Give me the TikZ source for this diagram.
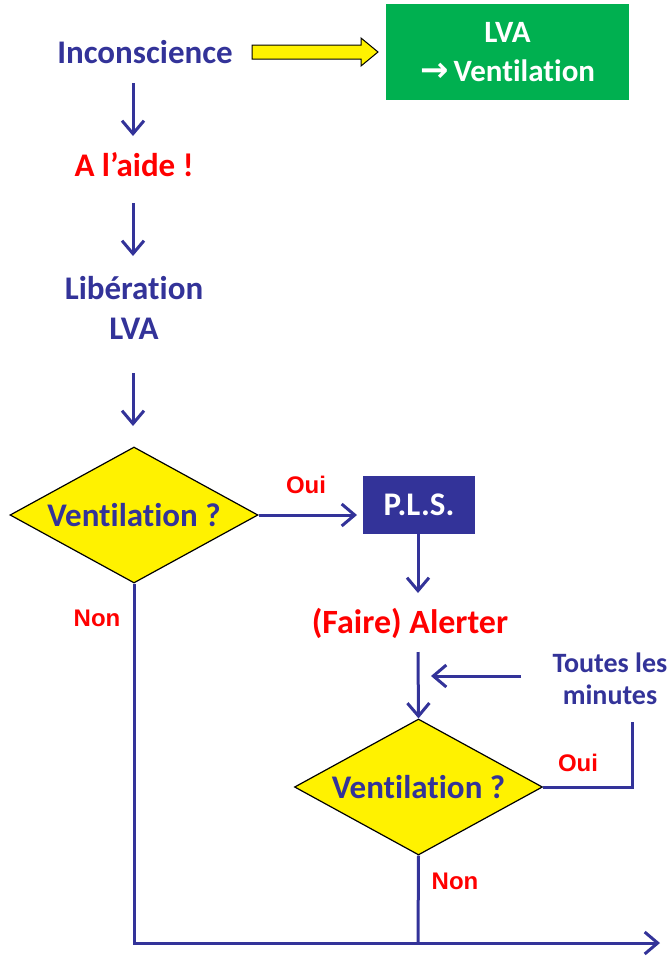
\documentclass[tikz,border=0pt]{standalone}
\usepackage{fontspec}
\setmainfont{Carlito}[Ligatures={NoCommon}]
\newfontfamily\labelfont{Liberation Sans}
\newfontfamily\arrowfont{DejaVu Sans}
\usetikzlibrary{arrows.meta,shapes.geometric}
\definecolor{navy}{HTML}{333399}
\definecolor{lvagreen}{HTML}{00B050}
\definecolor{alertred}{HTML}{FF0000}
\begin{document}
\begin{tikzpicture}[x=1pt,y=-1pt,
  big/.style={font=\fontsize{33}{40}\selectfont\bfseries},
  txt/.style={big, text=navy, inner sep=0pt},
  redtxt/.style={big, text=alertred, inner sep=0pt},
  yesno/.style={font=\labelfont\fontsize{24}{28}\selectfont\bfseries, text=alertred, inner sep=0pt},
  choice/.style={diamond, draw=black, line width=1.2pt, fill=yellow, minimum width=248pt, minimum height=136pt, inner sep=0pt, aspect=1.82, big, text=navy},
  flow/.style={draw=navy, line width=3pt, -{Straight Barb[length=13pt,width=22pt,line width=3pt]}},
  link/.style={draw=navy, line width=3pt}]
\useasboundingbox (0,0) rectangle (672,959);

% entry
\node[txt] (inc) at (145,52) {Inconscience};
\node[fill=lvagreen, minimum width=243pt, minimum height=96pt, inner sep=0pt,
      align=center, font=\fontsize{31}{39}\selectfont\bfseries, text=white] (green) at (507.5,52)
      {LVA\\{\arrowfont\bfseries\fontsize{34}{39}\selectfont →}\,Ventilation};
% yellow block arrow
\draw[black, line width=1pt, fill=yellow, line join=miter]
  (252,45) -- (361,45) -- (361,38) -- (378,52) -- (361,66) -- (361,59) -- (252,59) -- cycle;

\coordinate (a1s) at (133,83);  \coordinate (a1e) at (133,136);
\draw[flow] (a1s) -- (a1e);
\node[redtxt] (aide) at (134,165) {A l’aide !};
\coordinate (a2s) at (133,203); \coordinate (a2e) at (133,256);
\draw[flow] (a2s) -- (a2e);
\node[txt, align=center, font=\fontsize{33}{40}\selectfont\bfseries] (lib) at (134,308) {Libération\\LVA};
\coordinate (a3s) at (133,373); \coordinate (a3e) at (133,426);
\draw[flow] (a3s) -- (a3e);

% first test
\node[choice] (v1) at (134,515) {Ventilation ?};
\node[fill=navy, minimum width=112pt, minimum height=58pt, inner sep=0pt,
      big, text=white] (pls) at (419,505) {P.L.S.};
\coordinate (a4t) at (357,515);
\draw[flow] (v1.east) -- (a4t);
\node[yesno] at (306,485) {Oui};
\coordinate (a4e) at (418,593);
\draw[flow] (pls.south -| a4e) -- (a4e);
\node[redtxt, font=\fontsize{34}{40}\selectfont\bfseries] (alert) at (410,623) {(Faire) Alerter};

% second test
\node[choice] (v2) at (418.5,787) {Ventilation ?};
\coordinate (a5s) at (418,652);
\draw[flow] (a5s) -- (v2.north);
\node[txt, align=center, font=\fontsize{28}{32}\selectfont\bfseries] (loop) at (610,679) {Toutes les\\minutes};
\coordinate (a6s) at (521,676); \coordinate (a6e) at (431,676);
\draw[flow] (a6s) -- (a6e);
\coordinate (back) at (632,722);
\draw[link] (v2.east) -| (back);
\node[yesno] at (578,763) {Oui};
\node[yesno] at (455,881) {Non};
\node[yesno] at (97,618) {Non};

% common exit
\coordinate (join) at (418,943);
\coordinate (out) at (660,943);
\draw[link] (v2.south) -- (join);
\draw[flow, line join=miter] (v1.south) |- (out);
\end{tikzpicture}
\end{document}
